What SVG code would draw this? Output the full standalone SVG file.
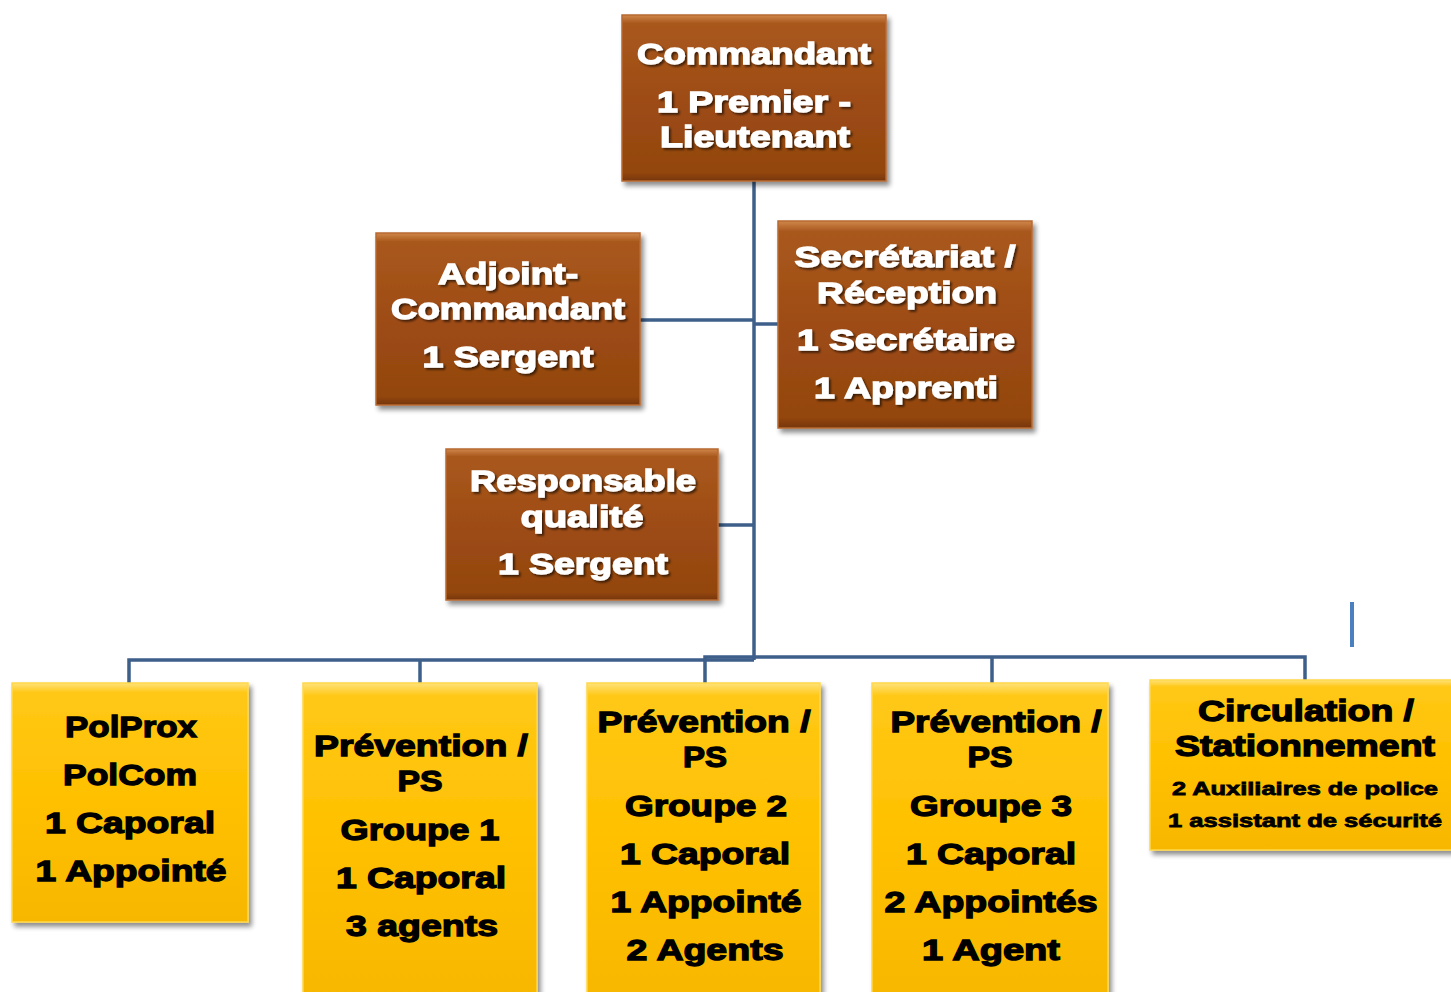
<svg xmlns="http://www.w3.org/2000/svg" width="1451" height="992" viewBox="0 0 1451 992">
<defs>
<linearGradient id="gb" x1="0" y1="0" x2="0" y2="1">
<stop offset="0" stop-color="#d0874a"/>
<stop offset="0.05" stop-color="#a9581d"/>
<stop offset="0.5" stop-color="#9e4c14"/>
<stop offset="0.95" stop-color="#93460f"/>
<stop offset="1" stop-color="#763609"/>
</linearGradient>
<linearGradient id="gy" x1="0" y1="0" x2="0" y2="1">
<stop offset="0" stop-color="#ffe27a"/>
<stop offset="0.04" stop-color="#ffc816"/>
<stop offset="0.5" stop-color="#ffc000"/>
<stop offset="1" stop-color="#f7b700"/>
</linearGradient>
<filter id="sh" x="-10%" y="-10%" width="125%" height="125%">
<feGaussianBlur in="SourceAlpha" stdDeviation="2.5"/>
<feOffset dx="3" dy="4" result="b"/>
<feComponentTransfer><feFuncA type="linear" slope="0.45"/></feComponentTransfer>
<feMerge><feMergeNode/><feMergeNode in="SourceGraphic"/></feMerge>
</filter>
<filter id="ts" x="-5%" y="-20%" width="110%" height="150%">
<feGaussianBlur in="SourceAlpha" stdDeviation="1"/>
<feOffset dx="1.5" dy="1.5"/>
<feComponentTransfer><feFuncA type="linear" slope="0.6"/></feComponentTransfer>
<feMerge><feMergeNode/><feMergeNode in="SourceGraphic"/></feMerge>
</filter>
</defs>
<style>
.bb{fill:url(#gb);stroke:#b86a30;stroke-width:1.5;filter:url(#sh)}
.yb{fill:url(#gy);stroke:#ffd84a;stroke-width:1.5;filter:url(#sh)}
text{font-family:"Liberation Sans",Arial,sans-serif;font-weight:bold;font-size:30px;text-anchor:middle}
.w{fill:#ffffff;stroke:#ffffff;stroke-width:1.3;filter:url(#ts)}
.k{fill:#000000;stroke:#000000;stroke-width:1.3}
.s{font-size:19px;stroke-width:0.8}
.c{fill:none;stroke:#3e5f8a;stroke-width:3.5}
</style>
<g id="connectors">
<path class="c" d="M754,181 V660"/>
<path class="c" d="M640,320 H754"/>
<path class="c" d="M754,324 H778"/>
<path class="c" d="M718,525 H754"/>
<path class="c" d="M129,683 V660 H754"/>
<path class="c" d="M420,660 V683"/>
<path class="c" d="M705,683 V657 H1305 V680"/>
<path class="c" d="M992,657 V683"/>
<path d="M1352,602 V647" fill="none" stroke="#4a7fc0" stroke-width="4"/>
</g>
<g id="commandant">
<rect class="bb" x="622" y="15" width="264" height="166"/>
<text class="w" x="754" y="64" textLength="234" lengthAdjust="spacingAndGlyphs">Commandant</text>
<text class="w" x="754" y="112" textLength="194" lengthAdjust="spacingAndGlyphs">1 Premier -</text>
<text class="w" x="755" y="147" textLength="190" lengthAdjust="spacingAndGlyphs">Lieutenant</text>
</g>
<g id="adjoint">
<rect class="bb" x="376" y="233" width="264" height="172"/>
<text class="w" x="508" y="284" textLength="140" lengthAdjust="spacingAndGlyphs">Adjoint-</text>
<text class="w" x="508" y="319" textLength="234" lengthAdjust="spacingAndGlyphs">Commandant</text>
<text class="w" x="508" y="367" textLength="171" lengthAdjust="spacingAndGlyphs">1 Sergent</text>
</g>
<g id="secretariat">
<rect class="bb" x="778" y="221" width="254" height="207"/>
<text class="w" x="905" y="267" textLength="221" lengthAdjust="spacingAndGlyphs">Secrétariat /</text>
<text class="w" x="907" y="303" textLength="180" lengthAdjust="spacingAndGlyphs">Réception</text>
<text class="w" x="906" y="350" textLength="218" lengthAdjust="spacingAndGlyphs">1 Secrétaire</text>
<text class="w" x="906" y="398" textLength="184" lengthAdjust="spacingAndGlyphs">1 Apprenti</text>
</g>
<g id="responsable">
<rect class="bb" x="446" y="449" width="272" height="151"/>
<text class="w" x="583" y="491" textLength="226" lengthAdjust="spacingAndGlyphs">Responsable</text>
<text class="w" x="582" y="527" textLength="123" lengthAdjust="spacingAndGlyphs">qualité</text>
<text class="w" x="583" y="574" textLength="170" lengthAdjust="spacingAndGlyphs">1 Sergent</text>
</g>
<g id="polprox">
<rect class="yb" x="12" y="683" width="236" height="239"/>
<text class="k" x="131" y="737" textLength="132" lengthAdjust="spacingAndGlyphs">PolProx</text>
<text class="k" x="130" y="785" textLength="134" lengthAdjust="spacingAndGlyphs">PolCom</text>
<text class="k" x="130" y="833" textLength="170" lengthAdjust="spacingAndGlyphs">1 Caporal</text>
<text class="k" x="131" y="881" textLength="191" lengthAdjust="spacingAndGlyphs">1 Appointé</text>
</g>
<g id="prevention1">
<rect class="yb" x="303" y="683" width="234" height="320"/>
<text class="k" x="421" y="756" textLength="214" lengthAdjust="spacingAndGlyphs">Prévention  /</text>
<text class="k" x="420" y="791" textLength="45" lengthAdjust="spacingAndGlyphs">PS</text>
<text class="k" x="420" y="840" textLength="159" lengthAdjust="spacingAndGlyphs">Groupe 1</text>
<text class="k" x="421" y="888" textLength="170" lengthAdjust="spacingAndGlyphs">1 Caporal</text>
<text class="k" x="422" y="936" textLength="152" lengthAdjust="spacingAndGlyphs">3 agents</text>
</g>
<g id="prevention2">
<rect class="yb" x="587" y="683" width="233" height="320"/>
<text class="k" x="704" y="732" textLength="213" lengthAdjust="spacingAndGlyphs">Prévention  /</text>
<text class="k" x="705" y="767" textLength="44" lengthAdjust="spacingAndGlyphs">PS</text>
<text class="k" x="706" y="816" textLength="162" lengthAdjust="spacingAndGlyphs">Groupe 2</text>
<text class="k" x="705" y="864" textLength="170" lengthAdjust="spacingAndGlyphs">1 Caporal</text>
<text class="k" x="706" y="912" textLength="191" lengthAdjust="spacingAndGlyphs">1 Appointé</text>
<text class="k" x="705" y="960" textLength="157" lengthAdjust="spacingAndGlyphs">2 Agents</text>
</g>
<g id="prevention3">
<rect class="yb" x="872" y="683" width="236" height="320"/>
<text class="k" x="996" y="732" textLength="211" lengthAdjust="spacingAndGlyphs">Prévention  /</text>
<text class="k" x="990" y="767" textLength="45" lengthAdjust="spacingAndGlyphs">PS</text>
<text class="k" x="991" y="816" textLength="162" lengthAdjust="spacingAndGlyphs">Groupe 3</text>
<text class="k" x="991" y="864" textLength="170" lengthAdjust="spacingAndGlyphs">1 Caporal</text>
<text class="k" x="991" y="912" textLength="213" lengthAdjust="spacingAndGlyphs">2 Appointés</text>
<text class="k" x="991" y="960" textLength="138" lengthAdjust="spacingAndGlyphs">1 Agent</text>
</g>
<g id="circulation">
<rect class="yb" x="1150" y="680" width="310" height="170"/>
<text class="k" x="1306" y="721" textLength="216" lengthAdjust="spacingAndGlyphs">Circulation /</text>
<text class="k" x="1305" y="756" textLength="260" lengthAdjust="spacingAndGlyphs">Stationnement</text>
<text class="k s" x="1305" y="795" textLength="266" lengthAdjust="spacingAndGlyphs">2 Auxiliaires  de police</text>
<text class="k s" x="1305" y="827" textLength="274" lengthAdjust="spacingAndGlyphs">1 assistant de sécurité</text>
</g>
</svg>
